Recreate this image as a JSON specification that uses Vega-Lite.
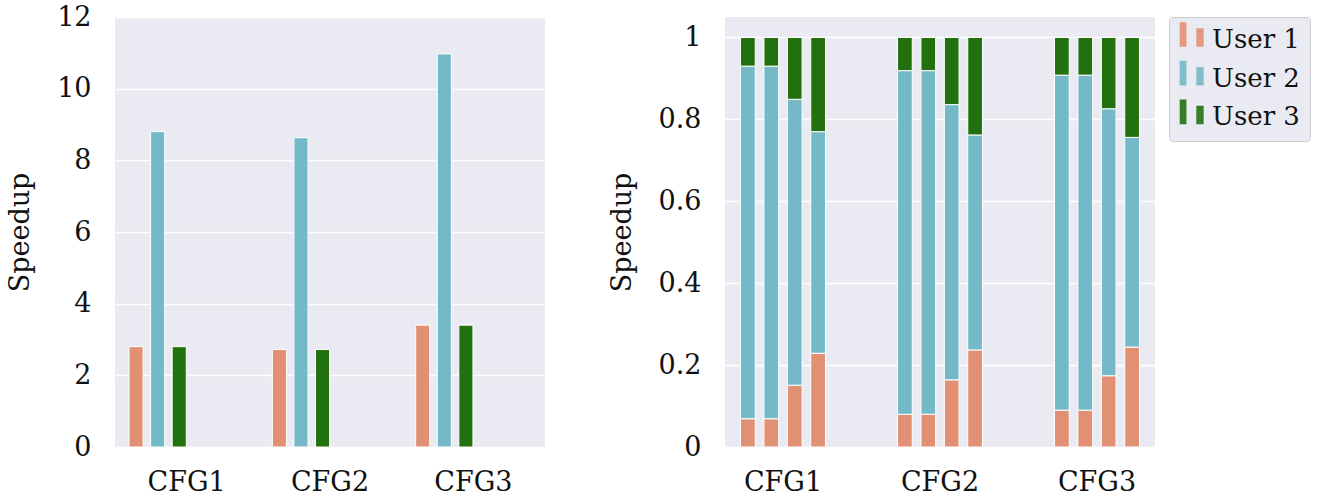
{
  "$schema": "https://vega.github.io/schema/vega-lite/v6.json",
  "padding": {"left": 6, "top": 3, "right": 4, "bottom": 0},
  "background": "white",
  "config": {
    "font": "DejaVu Serif",
    "view": {"fill": "#EAEAF2", "stroke": null},
    "axis": {
      "domain": false, "ticks": false,
      "labelFont": "DejaVu Serif", "labelFontSize": 27, "labelColor": "#111111",
      "titleFont": "DejaVu Serif", "titleFontSize": 27, "titleFontWeight": "normal", "titleColor": "#111111",
      "gridColor": "#FFFFFF", "gridWidth": 1.5
    },
    "axisX": {"grid": false, "labelPadding": 22, "labelAngle": 0, "title": null},
    "axisY": {"labelPadding": 24, "titlePadding": 22},
    "legend": {
      "orient": "right", "offset": 14, "title": null,
      "fillColor": "#EAEAF2", "strokeColor": "#CCCCCC", "cornerRadius": 3,
      "padding": 10, "rowPadding": 7.7,
      "labelFont": "DejaVu Serif", "labelFontSize": 26, "labelColor": "#111111", "labelOffset": 7,
      "symbolSize": 605, "symbolStrokeWidth": 0, "symbolOpacity": 0.9
    },
    "concat": {"spacing": 63}
  },
  "datasets": {
    "single": [
      {"config": "CFG1", "user": "User 1", "speedup": 2.80},
      {"config": "CFG1", "user": "User 2", "speedup": 8.80},
      {"config": "CFG1", "user": "User 3", "speedup": 2.80},
      {"config": "CFG2", "user": "User 1", "speedup": 2.72},
      {"config": "CFG2", "user": "User 2", "speedup": 8.63},
      {"config": "CFG2", "user": "User 3", "speedup": 2.72},
      {"config": "CFG3", "user": "User 1", "speedup": 3.40},
      {"config": "CFG3", "user": "User 2", "speedup": 10.97},
      {"config": "CFG3", "user": "User 3", "speedup": 3.40}
    ],
    "stacked": [
      {"config": "CFG1", "bar": "b1", "user": "User 1", "share": 0.069},
      {"config": "CFG1", "bar": "b1", "user": "User 2", "share": 0.861},
      {"config": "CFG1", "bar": "b1", "user": "User 3", "share": 0.070},
      {"config": "CFG1", "bar": "b2", "user": "User 1", "share": 0.069},
      {"config": "CFG1", "bar": "b2", "user": "User 2", "share": 0.861},
      {"config": "CFG1", "bar": "b2", "user": "User 3", "share": 0.070},
      {"config": "CFG1", "bar": "b3", "user": "User 1", "share": 0.151},
      {"config": "CFG1", "bar": "b3", "user": "User 2", "share": 0.698},
      {"config": "CFG1", "bar": "b3", "user": "User 3", "share": 0.151},
      {"config": "CFG1", "bar": "b4", "user": "User 1", "share": 0.229},
      {"config": "CFG1", "bar": "b4", "user": "User 2", "share": 0.541},
      {"config": "CFG1", "bar": "b4", "user": "User 3", "share": 0.230},
      {"config": "CFG2", "bar": "b1", "user": "User 1", "share": 0.080},
      {"config": "CFG2", "bar": "b1", "user": "User 2", "share": 0.839},
      {"config": "CFG2", "bar": "b1", "user": "User 3", "share": 0.081},
      {"config": "CFG2", "bar": "b2", "user": "User 1", "share": 0.080},
      {"config": "CFG2", "bar": "b2", "user": "User 2", "share": 0.839},
      {"config": "CFG2", "bar": "b2", "user": "User 3", "share": 0.081},
      {"config": "CFG2", "bar": "b3", "user": "User 1", "share": 0.164},
      {"config": "CFG2", "bar": "b3", "user": "User 2", "share": 0.672},
      {"config": "CFG2", "bar": "b3", "user": "User 3", "share": 0.164},
      {"config": "CFG2", "bar": "b4", "user": "User 1", "share": 0.237},
      {"config": "CFG2", "bar": "b4", "user": "User 2", "share": 0.525},
      {"config": "CFG2", "bar": "b4", "user": "User 3", "share": 0.238},
      {"config": "CFG3", "bar": "b1", "user": "User 1", "share": 0.090},
      {"config": "CFG3", "bar": "b1", "user": "User 2", "share": 0.818},
      {"config": "CFG3", "bar": "b1", "user": "User 3", "share": 0.092},
      {"config": "CFG3", "bar": "b2", "user": "User 1", "share": 0.090},
      {"config": "CFG3", "bar": "b2", "user": "User 2", "share": 0.818},
      {"config": "CFG3", "bar": "b2", "user": "User 3", "share": 0.092},
      {"config": "CFG3", "bar": "b3", "user": "User 1", "share": 0.174},
      {"config": "CFG3", "bar": "b3", "user": "User 2", "share": 0.652},
      {"config": "CFG3", "bar": "b3", "user": "User 3", "share": 0.174},
      {"config": "CFG3", "bar": "b4", "user": "User 1", "share": 0.244},
      {"config": "CFG3", "bar": "b4", "user": "User 2", "share": 0.512},
      {"config": "CFG3", "bar": "b4", "user": "User 3", "share": 0.244}
    ]
  },
  "resolve": {"scale": {"xOffset": "independent"}},
  "hconcat": [
    {
      "width": 430, "height": 430,
      "data": {"name": "single"},
      "mark": {"type": "bar", "stroke": "#FFFFFF", "strokeWidth": 1},
      "encoding": {
        "x": {"field": "config", "type": "nominal", "scale": {"paddingInner": 0, "paddingOuter": 0}, "axis": {"title": null}},
        "xOffset": {"field": "user", "type": "nominal", "scale": {"domain": ["User 1", "User 2", "User 3", "s4", "s5", "s6"], "paddingInner": 0.347, "paddingOuter": 0.493, "align": 0.658}},
        "y": {"field": "speedup", "type": "quantitative", "scale": {"domain": [0, 12], "nice": false}, "axis": {"values": [0, 2, 4, 6, 8, 10, 12], "format": "~g", "title": "Speedup"}},
        "color": {"field": "user", "type": "nominal", "scale": {"domain": ["User 1", "User 2", "User 3"], "range": ["#E19073", "#74B9C7", "#22710E"]}, "legend": {"symbolType": "M-1,-1.45H-0.45V0.55H-1Z M0.35,-0.95H0.95V0.55H0.35Z"}}
      }
    },
    {
      "width": 430, "height": 430,
      "data": {"name": "stacked"},
      "mark": {"type": "bar", "stroke": "#FFFFFF", "strokeWidth": 1},
      "encoding": {
        "x": {"field": "config", "type": "nominal", "scale": {"paddingInner": 0.261, "paddingOuter": 0}, "axis": {"title": null}},
        "xOffset": {"field": "bar", "type": "nominal", "scale": {"paddingInner": 0.372, "paddingOuter": 0.664}},
        "y": {"field": "share", "type": "quantitative", "stack": "zero", "scale": {"domain": [0, 1.05], "nice": false}, "axis": {"values": [0, 0.2, 0.4, 0.6, 0.8, 1], "format": "~g", "title": "Speedup"}},
        "color": {"field": "user", "type": "nominal", "scale": {"domain": ["User 1", "User 2", "User 3"], "range": ["#E19073", "#74B9C7", "#22710E"]}, "legend": {"symbolType": "M-1,-1.45H-0.45V0.55H-1Z M0.35,-0.95H0.95V0.55H0.35Z"}},
        "order": {"field": "user", "sort": "ascending"}
      }
    }
  ]
}
